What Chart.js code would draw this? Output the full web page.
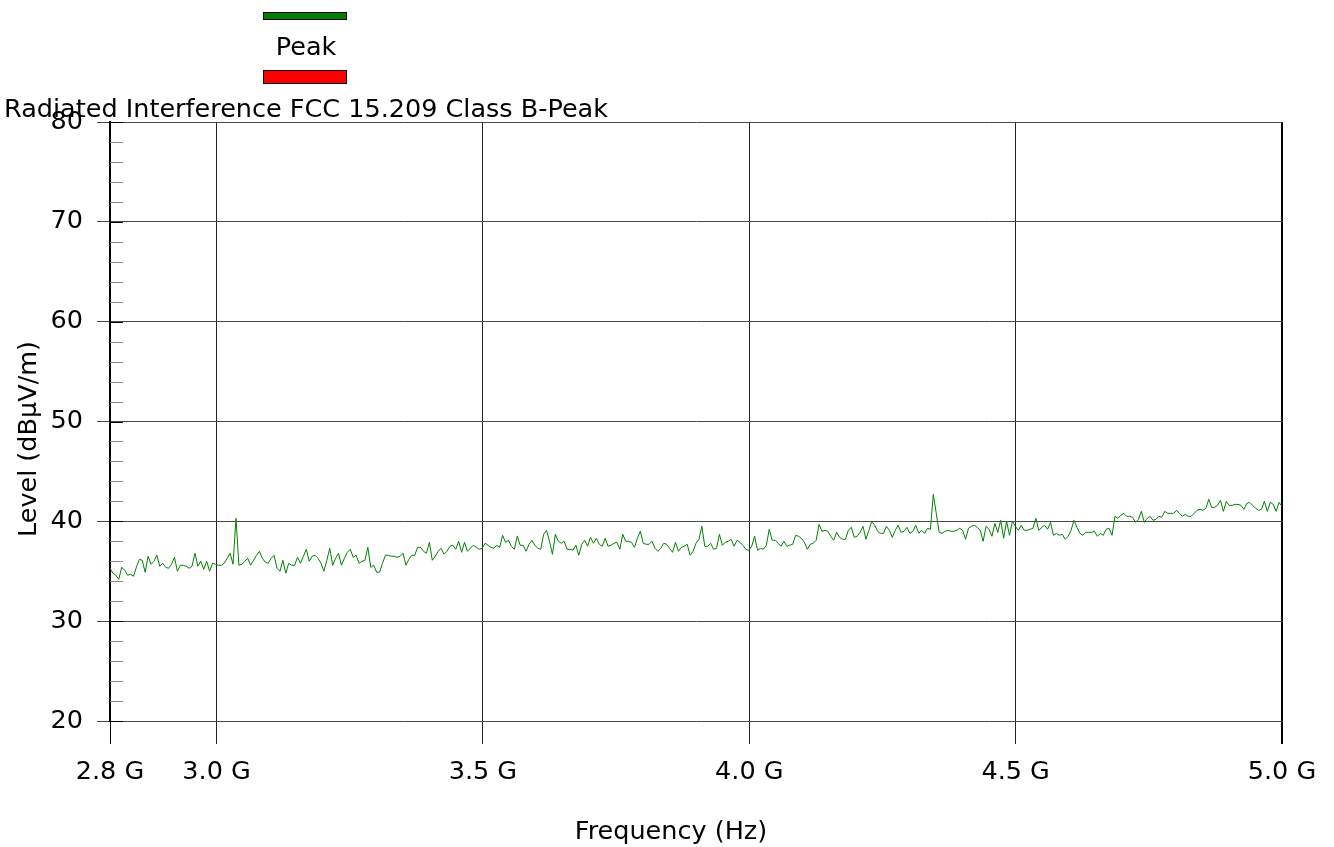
<!DOCTYPE html>
<html>
<head>
<meta charset="utf-8">
<title>Radiated Interference FCC 15.209 Class B-Peak</title>
<script src="https://cdn.jsdelivr.net/npm/chart.js@4.4.1/dist/chart.umd.min.js"></script>
<style>
  html, body { margin: 0; padding: 0; background: #fff; }
  canvas { display: block; }
</style>
</head>
<body>
<canvas id="emiChart" width="1334" height="847"></canvas>
<script>
// ============================================================
// SWEEP DATA  (2.8 GHz .. 5.0 GHz, 401 points)
// ============================================================
var SWEEP_START_HZ = 2.8e9;
var SWEEP_STEP_HZ  = 5.5e6;

// Peak detector reading, dBuV/m
var PEAK_LEVELS = [
  35.3, 34.8, 34.6, 34.2, 35.4, 35.1, 34.6, 34.7, 34.5, 35.4,
  36.2, 36.1, 34.9, 36.5, 35.7, 36.0, 36.6, 35.5, 35.8, 35.4,
  35.3, 35.7, 36.4, 35.0, 35.6, 35.6, 35.5, 35.3, 35.5, 36.8,
  35.5, 36.0, 35.2, 36.0, 35.0, 35.8, 35.7, 35.6, 35.6, 35.8,
  36.3, 36.8, 35.7, 40.3, 35.6, 35.7, 36.0, 36.3, 35.6, 36.1,
  36.6, 37.0, 36.3, 35.9, 35.8, 36.3, 36.6, 35.3, 35.0, 36.1,
  34.8, 35.8, 35.6, 35.6, 36.4, 35.8, 36.5, 37.2, 36.0, 36.5,
  36.6, 36.3, 35.8, 35.0, 36.1, 37.3, 35.6, 36.3, 36.8, 35.6,
  36.3, 36.9,
  37.2, 36.4, 36.6, 35.8, 36.0, 36.1, 37.4, 35.4, 35.6, 34.9,
  34.9, 35.8, 36.6, 36.6, 36.5, 36.5, 36.4, 36.5, 36.8, 35.6,
  36.2, 36.6, 36.6, 37.4, 37.4, 37.0, 36.8, 37.9, 36.1, 36.5,
  37.0, 37.3, 36.7, 37.0, 37.5, 37.6, 37.2, 38.0, 36.9, 37.9,
  37.0, 37.3, 37.6, 37.4, 37.2, 37.3, 37.8, 37.6, 37.4, 37.3,
  37.6, 37.4, 38.6, 37.9, 38.1, 37.5, 37.2, 38.5, 37.6, 37.6,
  37.0, 37.7, 38.1, 37.6, 37.3, 37.2, 38.7, 39.1, 38.0, 36.7,
  38.7, 38.0, 37.8, 38.0, 37.2, 37.2, 37.1, 37.6, 36.6, 37.7,
  38.1,
  37.5, 38.4, 37.8, 38.3, 37.7, 37.5, 38.3, 37.5, 37.6, 37.8,
  37.9, 37.2, 38.7, 38.0, 38.0, 37.9, 37.4, 38.3, 39.0, 37.8,
  37.7, 37.7, 38.0, 37.3, 37.0, 37.3, 37.8, 37.7, 37.3, 36.9,
  37.9, 37.0, 37.4, 37.5, 37.7, 36.6, 37.0, 37.8, 38.2, 39.5,
  37.5, 37.5, 37.8, 37.2, 37.3, 38.7, 37.6, 37.9, 38.0, 38.2,
  37.5, 38.1, 37.9, 37.6, 37.2, 37.1, 37.5, 38.5, 37.1, 37.3,
  37.2, 37.6, 39.2, 38.1, 38.1, 37.8, 37.5, 38.0, 37.5, 37.6,
  37.7, 38.6, 38.5, 38.3, 37.9, 37.2, 37.7, 37.8, 38.1, 39.7,
  39.0,
  39.1, 39.0, 38.5, 38.1, 38.9, 38.4, 38.2, 38.2, 39.1, 39.4,
  38.4, 38.5, 38.9, 39.5, 38.2, 39.1, 40.0, 39.6, 39.0, 38.8,
  38.8, 39.5, 39.1, 38.4, 39.1, 39.6, 38.9, 39.0, 39.4, 38.8,
  39.0, 39.6, 38.8, 39.1, 38.8, 39.3, 39.2, 42.7, 40.8, 38.9,
  38.8, 39.0, 39.1, 39.0, 39.0, 39.1, 39.3, 39.1, 38.2, 39.3,
  39.5, 39.6, 39.4, 39.1, 38.0, 39.5, 39.2, 38.5, 39.8, 38.9,
  40.1, 38.3, 40.0, 38.6, 40.0, 39.5, 39.1, 39.6, 39.1, 39.1,
  39.2, 39.3, 40.3, 39.1, 39.4, 39.6, 39.2, 39.9, 38.6, 38.8,
  38.6,
  38.7, 38.2, 38.5, 39.1, 40.1, 39.4, 38.8, 38.6, 38.9, 38.9,
  38.9, 39.0, 38.5, 38.8, 38.6, 39.2, 39.3, 38.6, 40.5, 40.3,
  40.6, 40.8, 40.5, 40.5, 40.4, 39.9, 40.2, 41.0, 39.9, 40.3,
  40.5, 40.1, 40.2, 40.5, 40.4, 41.0, 40.8, 40.8, 40.8, 41.1,
  40.8, 40.5, 40.7, 40.5, 40.5, 40.8, 41.1, 41.2, 41.1, 41.3,
  42.2, 41.4, 41.4, 41.6, 42.1, 41.0, 42.0, 41.6, 41.6, 41.7,
  41.7, 41.6, 41.2, 41.8, 41.9, 41.6, 41.3, 41.1, 41.2, 42.0,
  41.0, 41.9, 41.7, 41.0, 41.9, 41.5
];

// Limit line has no points inside this span
var LIMIT_LEVELS = [];

var FREQ_MIN = 2.8e9;
var FREQ_MAX = 5.0e9;
var FREQ_TICKS = [2.8e9, 3.0e9, 3.5e9, 4.0e9, 4.5e9, 5.0e9];

var LEVEL_MIN = 20;
var LEVEL_MAX = 80;
var LEVEL_MINOR_TICKS = [22, 24, 26, 28, 32, 34, 36, 38, 42, 44, 46, 48,
                         52, 54, 56, 58, 62, 64, 66, 68, 72, 74, 76, 78];

var SERIES_NAMES = ['Peak', 'Radiated Interference FCC 15.209 Class B-Peak'];
var AXIS_X_TITLE = 'Frequency (Hz)';
var AXIS_Y_TITLE = 'Level (dB\u00b5V/m)';

var FONT = '"DejaVu Sans", Verdana, sans-serif';
var FONT_SIZE = 25.5;

function toPoints(levels) {
  return levels.map(function(v, i) {
    return { x: SWEEP_START_HZ + i * SWEEP_STEP_HZ, y: v };
  });
}

// ------------------------------------------------------------
// legend stacked above the plot: colour bar, then the name under it
// ------------------------------------------------------------
var stackedLegend = {
  id: 'stackedLegend',
  afterDraw: function(chart) {
    var ctx = chart.ctx;
    ctx.save();
    ctx.font = FONT_SIZE + 'px ' + FONT;
    ctx.textAlign = 'center';
    ctx.textBaseline = 'alphabetic';
    chart.data.datasets.forEach(function(ds, i) {
      var bottom = 20 + i * 64;
      var top = Math.max(12, bottom - 14);
      ctx.fillStyle = ds.borderColor;
      ctx.fillRect(263, top, 84, bottom - top);
      ctx.strokeStyle = '#000';
      ctx.lineWidth = 1;
      ctx.strokeRect(263.5, top + 0.5, 83, bottom - top - 1);
      ctx.fillStyle = '#000';
      ctx.fillText(ds.label, 306, bottom + 35 - i * 2);
    });
    ctx.restore();
  }
};

// axis titles + minor ticks along the level axis
var axisExtras = {
  id: 'axisExtras',
  afterDraw: function(chart) {
    var ctx = chart.ctx;
    var area = chart.chartArea;
    var y = chart.scales.y;

    ctx.save();
    ctx.lineWidth = 1;
    ctx.strokeStyle = '#888';
    LEVEL_MINOR_TICKS.forEach(function(v) {
      var py = Math.round(y.getPixelForValue(v)) + 0.5;
      ctx.beginPath();
      ctx.moveTo(area.left, py);
      ctx.lineTo(area.left + 13, py);
      ctx.stroke();
    });
    ctx.strokeStyle = '#000';
    y.ticks.forEach(function(t) {
      var py = Math.round(y.getPixelForValue(t.value)) + 0.5;
      ctx.beginPath();
      ctx.moveTo(area.left, py);
      ctx.lineTo(area.left + 13, py);
      ctx.stroke();
    });

    ctx.fillStyle = '#000';
    ctx.font = FONT_SIZE + 'px ' + FONT;
    ctx.textAlign = 'center';
    ctx.textBaseline = 'alphabetic';
    ctx.fillText(AXIS_X_TITLE, 671, 839);

    ctx.translate(36, 439);
    ctx.rotate(-Math.PI / 2);
    ctx.fillText(AXIS_Y_TITLE, 0, 0);
    ctx.restore();
  }
};

var chart = new Chart(document.getElementById('emiChart'), {
  type: 'line',
  data: {
    datasets: [
      {
        label: SERIES_NAMES[0],
        data: toPoints(PEAK_LEVELS),
        borderColor: '#008000',
        backgroundColor: '#008000',
        borderWidth: 1,
        pointRadius: 0,
        tension: 0,
        fill: false
      },
      {
        label: SERIES_NAMES[1],
        data: toPoints(LIMIT_LEVELS),
        borderColor: '#ff0000',
        backgroundColor: '#ff0000',
        borderWidth: 1,
        pointRadius: 0,
        fill: false
      }
    ]
  },
  options: {
    responsive: false,
    animation: false,
    devicePixelRatio: 1,
    layout: { padding: { top: 122, right: 52, bottom: 0, left: 0 } },
    plugins: {
      legend: { display: false },
      title: { display: false },
      tooltip: { enabled: false }
    },
    scales: {
      x: {
        type: 'linear',
        min: FREQ_MIN,
        max: FREQ_MAX,
        afterBuildTicks: function(s) {
          s.ticks = FREQ_TICKS.map(function(v) { return { value: v }; });
        },
        afterFit: function(s) { s.height = 126; },
        ticks: {
          autoSkip: false,
          maxRotation: 0,
          padding: 13,
          color: '#000',
          font: { family: FONT, size: FONT_SIZE },
          callback: function(v) { return (v / 1e9).toFixed(1) + ' G'; }
        },
        grid: {
          tickLength: 23,
          color: function(c) {
            var v = c.tick && c.tick.value;
            return (v === FREQ_MIN || v === FREQ_MAX) ? '#000' : '#222';
          },
          lineWidth: function(c) {
            var v = c.tick && c.tick.value;
            return (v === FREQ_MAX) ? 2 : 1;
          }
        },
        border: { display: false }
      },
      y: {
        min: LEVEL_MIN,
        max: LEVEL_MAX,
        afterFit: function(s) { s.width = 110; },
        ticks: {
          stepSize: 10,
          padding: 14,
          color: '#000',
          font: { family: FONT, size: FONT_SIZE }
        },
        grid: { color: '#4a4a4a', lineWidth: 1, tickLength: 13 },
        border: { display: true, color: '#000', width: 2 }
      }
    }
  },
  plugins: [stackedLegend, axisExtras]
});
</script>
</body>
</html>
